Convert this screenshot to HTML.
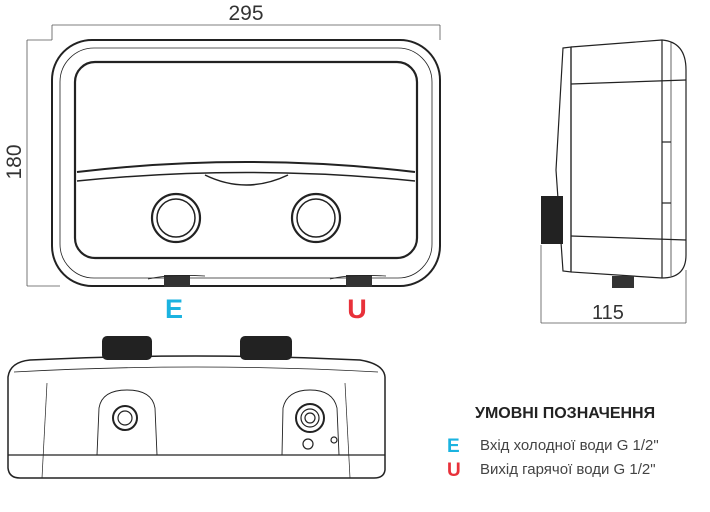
<!DOCTYPE html>
<html><head><meta charset="utf-8"><style>
body{margin:0;background:#fff;width:710px;height:512px;overflow:hidden;font-family:"Liberation Sans",sans-serif}
svg{position:absolute;left:0;top:0}
</style></head><body>
<svg width="710" height="512" viewBox="0 0 710 512" fill="none" stroke="#222" stroke-width="1.2">
<g stroke="#555" stroke-width="0.8">
<line x1="52" y1="25" x2="440" y2="25"/><line x1="52" y1="25" x2="52" y2="40"/><line x1="440" y1="25" x2="440" y2="40"/>
<line x1="27" y1="40" x2="27" y2="286"/><line x1="27" y1="40" x2="52" y2="40"/><line x1="27" y1="286" x2="60" y2="286"/>
<line x1="541" y1="323" x2="686" y2="323"/><line x1="541" y1="245" x2="541" y2="323"/><line x1="686" y1="270" x2="686" y2="323"/>
</g>
<text x="246" y="20" font-size="21" fill="#333" stroke="none" text-anchor="middle" font-family="Liberation Sans">295</text>
<text x="0" y="0" font-size="21" fill="#333" stroke="none" text-anchor="middle" transform="translate(21,162) rotate(-90)">180</text>
<text x="608" y="319" font-size="20" fill="#333" stroke="none" text-anchor="middle">115</text>
<rect x="52" y="40" width="388" height="246" rx="40" stroke-width="2"/>
<rect x="60" y="48" width="372" height="230" rx="34" stroke-width="0.8"/>
<rect x="75" y="62" width="342" height="196" rx="20" stroke-width="2.2"/>
<path d="M77 172 Q246 152 415 172" stroke-width="2"/>
<path d="M77 181 Q246 164 415 181" stroke-width="1.5"/>
<path d="M205 175 Q246 195 288 175" stroke-width="1.5"/>
<circle cx="176" cy="218" r="24" stroke-width="2.2"/><circle cx="176" cy="218" r="19" stroke-width="1.5"/>
<circle cx="316" cy="218" r="24" stroke-width="2.2"/><circle cx="316" cy="218" r="19" stroke-width="1.5"/>
<rect x="164" y="275" width="26" height="12" fill="#333" stroke="none"/>
<rect x="346" y="275" width="26" height="12" fill="#333" stroke="none"/>
<path d="M148 279 Q170 274 205 276" stroke-width="0.8"/><path d="M330 279 Q350 274 386 276" stroke-width="0.8"/>
<path d="M571 47 L662 40 Q686 42 686 70 L686 255 Q686 278 662 278 L571 272 Z" stroke-width="1.2"/>
<path d="M563 48 L571 47 L571 272 L563 271 L556 170 Z" stroke-width="1.2"/>
<line x1="662" y1="40" x2="662" y2="278"/>
<line x1="671" y1="42" x2="671" y2="276" stroke-width="0.7"/>
<line x1="571" y1="84" x2="686" y2="80"/>
<line x1="571" y1="236" x2="686" y2="240"/>
<line x1="662" y1="142" x2="671" y2="142"/><line x1="662" y1="203" x2="671" y2="203"/>
<rect x="541" y="196" width="22" height="48" fill="#222" stroke="none"/>
<rect x="612" y="276" width="22" height="12" fill="#333" stroke="none"/>
<rect x="102" y="336" width="50" height="24" rx="5" fill="#222" stroke="none"/>
<rect x="240" y="336" width="52" height="24" rx="5" fill="#222" stroke="none"/>
<path d="M8 377 Q10 362 30 360 Q196 352 360 360 Q384 364 385 377 L385 470 Q384 478 374 478 L20 478 Q9 478 8 468 Z" stroke-width="1.5"/>
<path d="M14 372 Q196 362 378 372" stroke-width="0.8"/>
<line x1="8" y1="455" x2="385" y2="455"/>
<line x1="47" y1="383" x2="42" y2="478" stroke-width="0.7"/>
<line x1="345" y1="383" x2="350" y2="478" stroke-width="0.7"/>
<path d="M97 455 L99 408 Q102 390 127 390 Q152 390 155 408 L157 455" stroke-width="0.9"/>
<path d="M282 455 L283 408 Q287 390 310 390 Q333 390 337 408 L339 455" stroke-width="0.9"/>
<circle cx="125" cy="418" r="12" stroke-width="2"/><circle cx="125" cy="418" r="7"/>
<circle cx="310" cy="418" r="14" stroke-width="2"/><circle cx="310" cy="418" r="9"/><circle cx="310" cy="418" r="5"/>
<circle cx="308" cy="444" r="5"/><circle cx="334" cy="440" r="3"/>
<text x="174" y="318" font-size="27" font-weight="bold" fill="#1bb3e0" stroke="none" text-anchor="middle">E</text>
<text x="357" y="318" font-size="27" font-weight="bold" fill="#e8313a" stroke="none" text-anchor="middle">U</text>
<text x="475" y="418" font-size="16" font-weight="bold" fill="#222" stroke="none">УМОВНІ ПОЗНАЧЕННЯ</text>
<text x="447" y="452" font-size="19" font-weight="bold" fill="#1bb3e0" stroke="none">E</text>
<text x="447" y="476" font-size="19" font-weight="bold" fill="#e8313a" stroke="none">U</text>
<text x="480" y="450" font-size="15" fill="#444" stroke="none">Вхід холодної води G 1/2"</text>
<text x="480" y="474" font-size="15" fill="#444" stroke="none">Вихід гарячої води G 1/2"</text>
</svg>
</body></html>
